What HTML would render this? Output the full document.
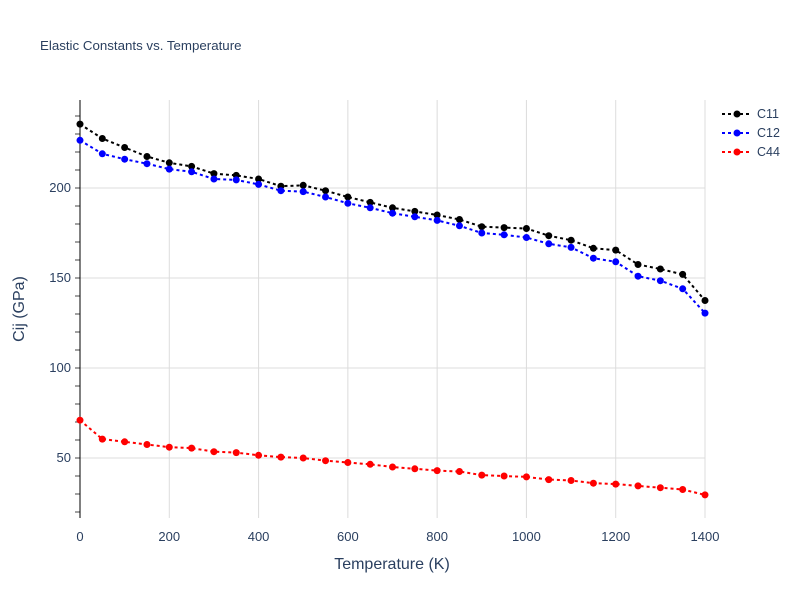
<!DOCTYPE html>
<html><head><meta charset="utf-8"><style>
body{margin:0;background:#fff;font-family:"Liberation Sans",sans-serif}
text{font-family:"Liberation Sans",sans-serif}
</style></head><body>
<svg id="chart" width="800" height="600">
<text x="40" y="50" font-size="13.3" fill="#2a3f5f">Elastic Constants vs. Temperature</text>
<g id="grid"></g><g id="axes"></g><g id="series"></g><g id="legend"></g>
<text x="392" y="569" font-size="16" fill="#2a3f5f" text-anchor="middle">Temperature (K)</text>
<text transform="translate(24,309) rotate(-90)" font-size="16" fill="#2a3f5f" text-anchor="middle">Cij (GPa)</text>
</svg>
<script>
const temps=[0,50,100,150,200,250,300,350,400,450,500,550,600,650,700,750,800,850,900,950,1000,1050,1100,1150,1200,1250,1300,1350,1400];
const c11=[235.5,227.5,222.5,217.5,214,212,208,207,205,201,201.5,198.5,195,192,189,187,185,182.5,178.5,178,177.5,173.5,171,166.5,165.5,157.5,155,152,137.5];
const c12=[226.5,219,216,213.5,210.5,209,205,204.5,202,198.5,198,195,191.5,189,186,184,182,179,175,174,172.5,169,167,161,159,151,148.5,144,130.5];
const c44=[71,60.5,59,57.5,56,55.5,53.5,53,51.5,50.5,50,48.5,47.5,46.5,45,44,43,42.5,40.5,40,39.5,38,37.5,36,35.5,34.5,33.5,32.5,29.5];
const xTicks=[0,200,400,600,800,1000,1200,1400];
const yTicks=[50,100,150,200];
const seriesNames=["C11","C12","C44"];
const seriesColors=["#000000","#0000ff","#ff0000"];
const NS="http://www.w3.org/2000/svg";
const X0=80,X1=705,YT=100,YB=518;
const xs=v=>X0+(v-0)/1400*(X1-X0);
const ys=v=>188+(200-v)*1.8;
function mk(tag,attrs,parent){const e=document.createElementNS(NS,tag);for(const k in attrs)e.setAttribute(k,attrs[k]);parent.appendChild(e);return e;}
const grid=document.getElementById('grid'),axes=document.getElementById('axes'),ser=document.getElementById('series'),leg=document.getElementById('legend');
xTicks.forEach(t=>{
 if(t>0){const l=mk('line',{x1:xs(t),x2:xs(t),y1:YT,y2:YB,stroke:'#dcdcdc','stroke-width':1},grid);
 
 }
 const tx=mk('text',{x:xs(t),y:541,'font-size':13,fill:'#2a3f5f','text-anchor':'middle'},axes);tx.textContent=t;
 
 
});
yTicks.forEach(t=>{
 const l=mk('line',{x1:X0,x2:X1,y1:ys(t),y2:ys(t),stroke:'#dcdcdc','stroke-width':1},grid);
 
 
 const tx=mk('text',{x:71,y:ys(t)+4,'font-size':13,fill:'#2a3f5f','text-anchor':'end'},axes);tx.textContent=t;
 
 
});
for(let v=20;v<=240;v+=10){mk('line',{x1:75,x2:80,y1:ys(v),y2:ys(v),stroke:'#444','stroke-width':1},axes);}
const ya=mk('line',{x1:X0,x2:X0,y1:YT,y2:YB,stroke:'#000','stroke-width':1},axes);


[c11,c12,c44].forEach((vals,i)=>{
 const g=mk('g',{},ser);
 
 
 mk('polyline',{points:vals.map((v,j)=>xs(temps[j])+','+ys(v)).join(' '),fill:'none',stroke:seriesColors[i],'stroke-width':2,'stroke-dasharray':'3,3'},g);
 vals.forEach((v,j)=>{const c=mk('circle',{cx:xs(temps[j]),cy:ys(v),r:3.5,fill:seriesColors[i]},g);
 
 });
 const ly=114+i*19;
 const le=mk('g',{},leg);
 
 
 mk('line',{x1:722,x2:752,y1:ly,y2:ly,stroke:seriesColors[i],'stroke-width':2,'stroke-dasharray':'3,3'},le);
 mk('circle',{cx:737,cy:ly,r:3.5,fill:seriesColors[i]},le);
 const t=mk('text',{x:757,y:ly+4,'font-size':12.5,fill:'#2a3f5f'},le);t.textContent=seriesNames[i];
});
</script>
</body></html>
